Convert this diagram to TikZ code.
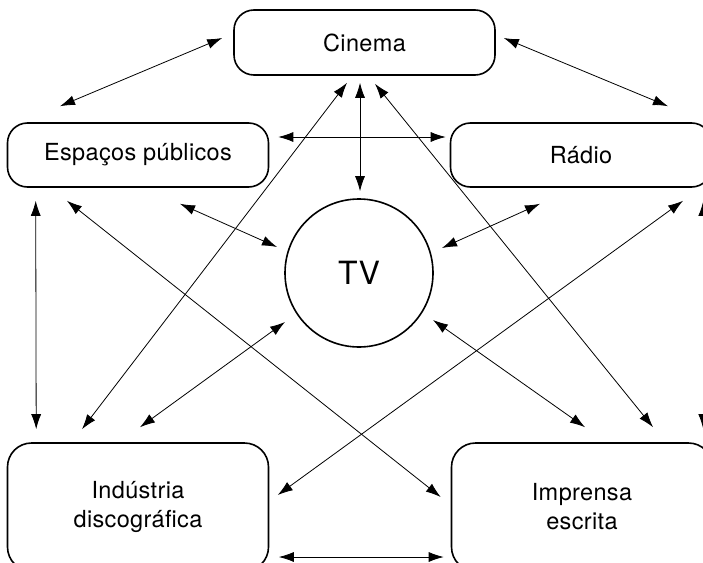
\documentclass[tikz,border=0pt]{standalone}
\usepackage{fontspec}
\setmainfont{TeX Gyre Heros}[LetterSpace=1.5]
\usetikzlibrary{arrows.meta,positioning}

\begin{document}
\begin{tikzpicture}[x=1pt,y=-1pt,
    box/.style={draw, line width=1.6pt, rounded corners=20pt, minimum width=261pt, minimum height=65pt, inner sep=0pt, align=center, font=\fontsize{23.5}{29}\selectfont},
    bigbox/.style={box, minimum height=128pt, rounded corners=24pt},
    link/.style={{Latex[length=15pt,width=10pt]}-{Latex[length=15pt,width=10pt]}, line width=0.8pt}]
    \useasboundingbox (0,0) rectangle (703,562);

    \node[box] (cinema) at (364.5,42.5) {Cinema};
    \node[box, minimum height=64pt] (espacos) at (138,155) {Espaços públicos};
    \node[box, minimum height=64pt] (radio) at (581,155) {Rádio};
    \node[draw, circle, line width=1.6pt, minimum size=148pt, inner sep=0pt, font=\fontsize{32}{36}\selectfont] (tv) at (359,273) {TV};
    \node[bigbox] (industria) at (138,507) {Indústria\\discográfica};
    \node[bigbox] (imprensa) at (582,507) {Imprensa\\escrita};

    % around the top
    \draw[link] ([shift={(-11,-4.5)}]cinema.west) -- ([shift={(-78,-16)}]espacos.north);
    \draw[link] ([shift={(8,-4.5)}]cinema.east) -- ([shift={(87,-16)}]radio.north);
    \draw[link] ([shift={(9,-18)}]espacos.east) -- ([shift={(-4,-18)}]radio.west);
    \draw[link] ([shift={(-4.5,7)}]cinema.south) -- ([shift={(1,-7)}]tv.north);
    \draw[link] ([shift={(42,16)}]espacos.south) -- ([shift={(-82,-26)}]tv.center);
    \draw[link] ([shift={(-41,16)}]radio.south) -- ([shift={(83,-25)}]tv.center);

    % sides
    \draw[link] ([shift={(29,13)}]espacos.south west) -- ([shift={(29.5,-13)}]industria.north west);
    \draw[link] ([shift={(-9,13)}]radio.south east) -- ([shift={(-10,-13)}]imprensa.north east);

    % crossing
    \draw[link] ([shift={(-17.5,7)}]cinema.south) -- ([shift={(-56,-13)}]industria.north);
    \draw[link] ([shift={(10.5,8)}]cinema.south) -- ([shift={(71,-15)}]imprensa.north);
    \draw[link] ([shift={(-71,13)}]espacos.south) -- ([shift={(-10,-10)}]imprensa.west);
    \draw[link] ([shift={(102,13)}]radio.south) -- ([shift={(8.5,-12)}]industria.east);
    \draw[link] ([shift={(-74,49)}]tv.center) -- ([shift={(2,-15)}]industria.north);
    \draw[link] ([shift={(74,47)}]tv.center) -- ([shift={(3,-15)}]imprensa.north);

    % bottom
    \draw[link] ([shift={(9.5,50)}]industria.east) -- ([shift={(-7,50)}]imprensa.west);

\end{tikzpicture}
\end{document}
